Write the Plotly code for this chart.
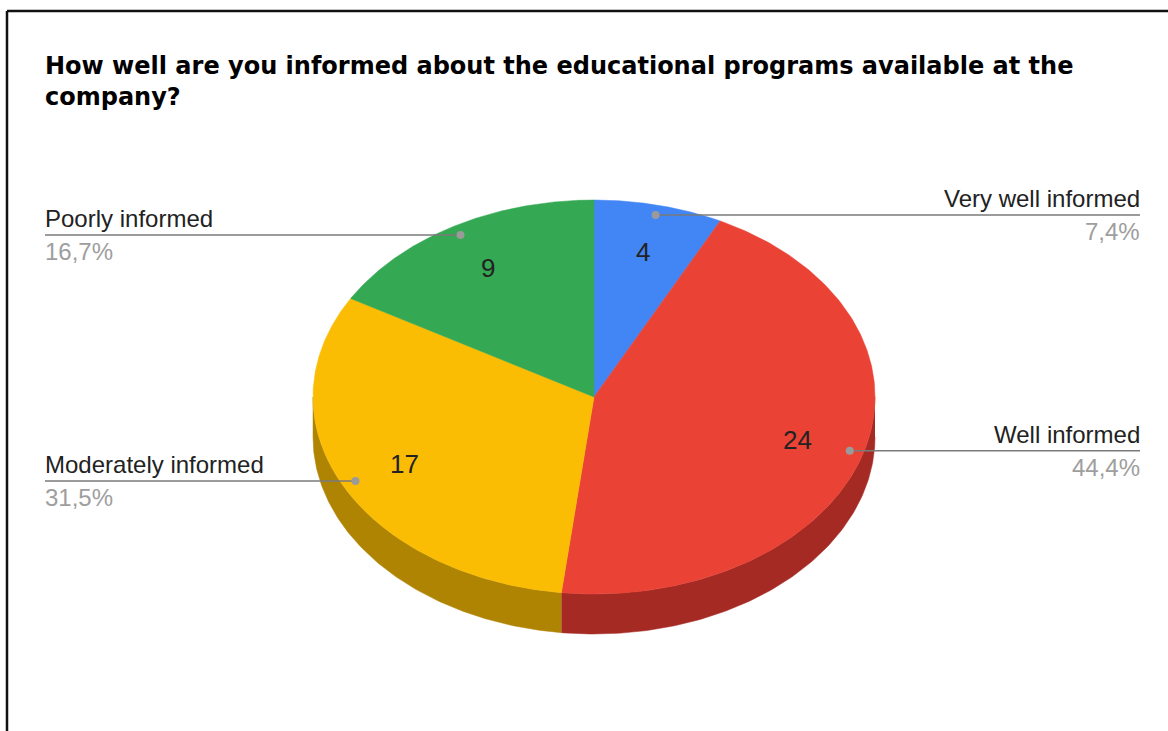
import numpy as np
import plotly.graph_objects as go

# ---- data ----
labels = ["Very well informed", "Well informed", "Moderately informed", "Poorly informed"]
values = [4, 24, 17, 9]
pct_labels = ["7,4%", "44,4%", "31,5%", "16,7%"]
title = "How well are you informed about the educational programs available at the<br>company?"

# ---- style ----
top_colors = ["#4285F4", "#EA4335", "#FBBC04", "#34A853"]
side_colors = ["#2E5DAB", "#A52A24", "#B08403", "#247535"]
W, H = 1168, 731
CX, CY, RX, RY, DEPTH = 594, 397, 281, 197, 40
R_LABEL, R_DOT = 0.755, 0.95
LABEL_FONT = "Liberation Sans"

total = sum(values)
fig = go.Figure()

def pt(t_deg, r=1.0, dy=0.0):
    t = np.radians(t_deg)
    return CX + RX * r * np.sin(t), CY - RY * r * np.cos(t) + dy

# angles (clockwise from 12 o'clock)
bounds = np.concatenate([[0], np.cumsum(values)]) / total * 360.0

# side walls
for i in range(len(values)):
    a0, a1 = bounds[i], bounds[i + 1]
    s0, s1 = max(a0, 90.0), min(a1, 270.0)
    if s1 <= s0:
        continue
    ts = np.linspace(s0, s1, 120)
    xs_top, ys_top = pt(ts)
    xs_bot, ys_bot = pt(ts[::-1], dy=DEPTH)
    fig.add_trace(go.Scatter(
        x=np.concatenate([xs_top, xs_bot]), y=np.concatenate([ys_top, ys_bot]),
        fill="toself", fillcolor=side_colors[i], mode="lines",
        line=dict(width=0.5, color=side_colors[i]), hoverinfo="skip", showlegend=False))

# top faces
for i in range(len(values)):
    a0, a1 = bounds[i], bounds[i + 1]
    ts = np.linspace(a0, a1, 200)
    xs, ys = pt(ts)
    fig.add_trace(go.Scatter(
        x=np.concatenate([[CX], xs, [CX]]), y=np.concatenate([[CY], ys, [CY]]),
        fill="toself", fillcolor=top_colors[i], mode="lines",
        line=dict(width=0.5, color=top_colors[i]), hoverinfo="skip", showlegend=False))

# labels
for i in range(len(values)):
    mid = (bounds[i] + bounds[i + 1]) / 2
    lx, ly = pt(mid, R_LABEL)
    fig.add_annotation(x=lx, y=ly, text=str(values[i]), showarrow=False,
                       font=dict(family=LABEL_FONT, size=26, color="#222222"))
    dx, dyy = pt(mid, R_DOT)
    right = np.sin(np.radians(mid)) > 0
    xend = 1140 if right else 45
    fig.add_trace(go.Scatter(x=[dx, xend], y=[dyy, dyy], mode="lines",
                             line=dict(color="#7a7a7a", width=1.5),
                             hoverinfo="skip", showlegend=False))
    fig.add_trace(go.Scatter(x=[dx], y=[dyy], mode="markers",
                             marker=dict(color="#9a9a9a", size=8),
                             hoverinfo="skip", showlegend=False))
    anchor = "right" if right else "left"
    tx = xend + (2 if right else -2)
    fig.add_annotation(x=tx, y=dyy - 16, text=labels[i], showarrow=False,
                       xanchor=anchor, yanchor="middle",
                       font=dict(family=LABEL_FONT, size=24, color="#222222"))
    fig.add_annotation(x=tx, y=dyy + 17, text=pct_labels[i], showarrow=False,
                       xanchor=anchor, yanchor="middle",
                       font=dict(family=LABEL_FONT, size=24, color="#9e9e9e"))

fig.add_annotation(x=43, y=50, xref="x", yref="y", text="<b>" + title + "</b>",
                   showarrow=False, xanchor="left", yanchor="top", align="left",
                   font=dict(family="DejaVu Sans", size=24, color="#000000"))

# frame
fig.add_shape(type="line", xref="paper", yref="paper", x0=7 / W, x1=1.01,
              y0=1 - 11 / H, y1=1 - 11 / H, line=dict(color="#111111", width=2.5))
fig.add_shape(type="line", xref="paper", yref="paper", x0=7 / W, x1=7 / W,
              y0=1 - 11 / H, y1=-0.01, line=dict(color="#111111", width=2.5))

fig.update_layout(
    width=W, height=H, margin=dict(l=0, r=0, t=0, b=0),
    paper_bgcolor="white", plot_bgcolor="white",
    xaxis=dict(range=[0, W], visible=False, fixedrange=True),
    yaxis=dict(range=[H, 0], visible=False, fixedrange=True),
    showlegend=False,
)
fig.write_html("out.html")
